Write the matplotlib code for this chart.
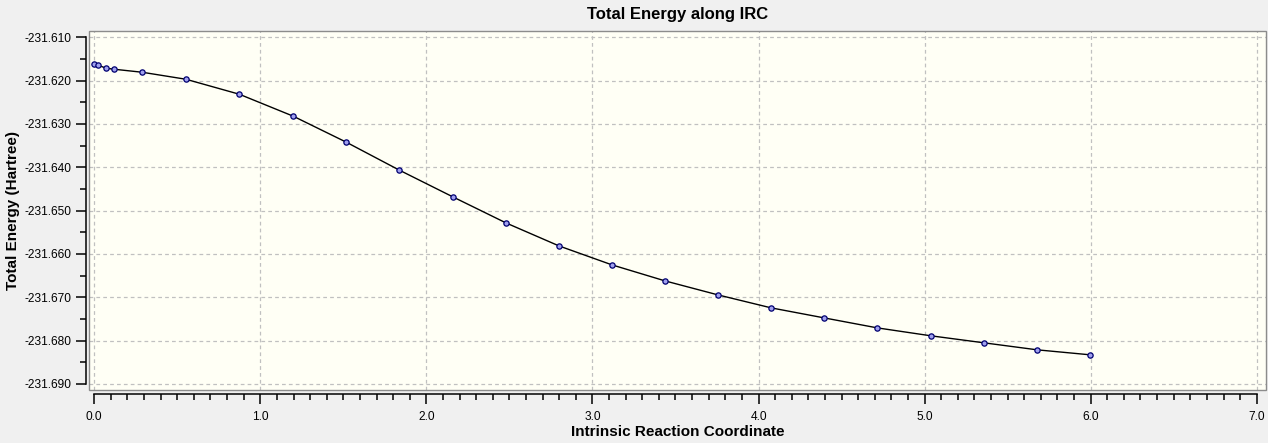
import numpy as np
import matplotlib.pyplot as plt
from matplotlib.patches import Rectangle
from matplotlib.ticker import MultipleLocator, FormatStrFormatter

plt.rcParams['font.family'] = ['Liberation Sans', 'DejaVu Sans']

# IRC points
irc = [0.0, 0.024, 0.072, 0.12, 0.288, 0.552, 0.873, 1.198, 1.517, 1.837,
       2.162, 2.481, 2.800, 3.119, 3.438, 3.757, 4.077, 4.396, 4.715,
       5.040, 5.360, 5.679, 5.998]
energy = [-231.61622, -231.61645, -231.61714, -231.61737, -231.61806,
          -231.61968, -231.62313, -231.62820, -231.63419, -231.64065,
          -231.64687, -231.65286, -231.65816, -231.66253, -231.66622,
          -231.66945, -231.67244, -231.67475, -231.67705, -231.67889,
          -231.68051, -231.68212, -231.68327]

title = "Total Energy along IRC"
xlabel = "Intrinsic Reaction Coordinate"
ylabel = "Total Energy (Hartree)"

fig = plt.figure(figsize=(12.68, 4.43), dpi=100, facecolor='#F0F0F0')
ax = fig.add_axes([0.0704, 0.119, 0.9283, 0.8103])
ax.set_facecolor('#FFFFF5')

ax.plot(irc, energy, '-', color='black', lw=1.0, zorder=3)
ax.plot(irc, energy, 'o', ms=3.8, mfc='#A0A0EE', mec='#000070', mew=0.9,
        zorder=4)

ax.set_xlim(-0.030, 7.058)
ax.set_ylim(-231.69145, -231.60862)

ax.xaxis.set_major_locator(MultipleLocator(1.0))
ax.xaxis.set_minor_locator(MultipleLocator(0.1))
ax.yaxis.set_major_locator(MultipleLocator(0.01))
ax.yaxis.set_minor_locator(MultipleLocator(0.005))
ax.xaxis.set_major_formatter(FormatStrFormatter('%.1f'))
ax.yaxis.set_major_formatter(FormatStrFormatter('%.3f'))

ax.grid(True, which='major', color='#C0C0C0', ls=(0, (3, 2.5)), lw=0.9)
ax.set_axisbelow(True)

# gray frame around plot area, separate black axis lines outside it
for s in ['top', 'right']:
    ax.spines[s].set_visible(False)
ax.add_patch(Rectangle((0, 0), 1, 1, transform=ax.transAxes, fill=False,
                       ec='#8C8C8C', lw=1.0, clip_on=False, zorder=5))
for s in ['left', 'bottom']:
    ax.spines[s].set_position(('outward', 2.6))
    ax.spines[s].set_color('black')
    ax.spines[s].set_linewidth(1.1)
ax.spines['left'].set_bounds(-231.690, -231.610)
ax.spines['bottom'].set_bounds(0.0, 7.0)

ax.tick_params(which='major', length=7.5, width=1.1, color='black',
               labelsize=8.6, pad=3)
ax.tick_params(which='minor', length=4.5, width=1.1, color='black')
ax.tick_params(axis='x', which='major', pad=5)

ax.set_title(title, fontsize=12, fontweight='bold', pad=9)
ax.set_xlabel(xlabel, fontsize=11, fontweight='bold', labelpad=1)
ax.set_ylabel(ylabel, fontsize=11, fontweight='bold', labelpad=3)

fig.savefig('out.png', dpi=100, facecolor=fig.get_facecolor())
